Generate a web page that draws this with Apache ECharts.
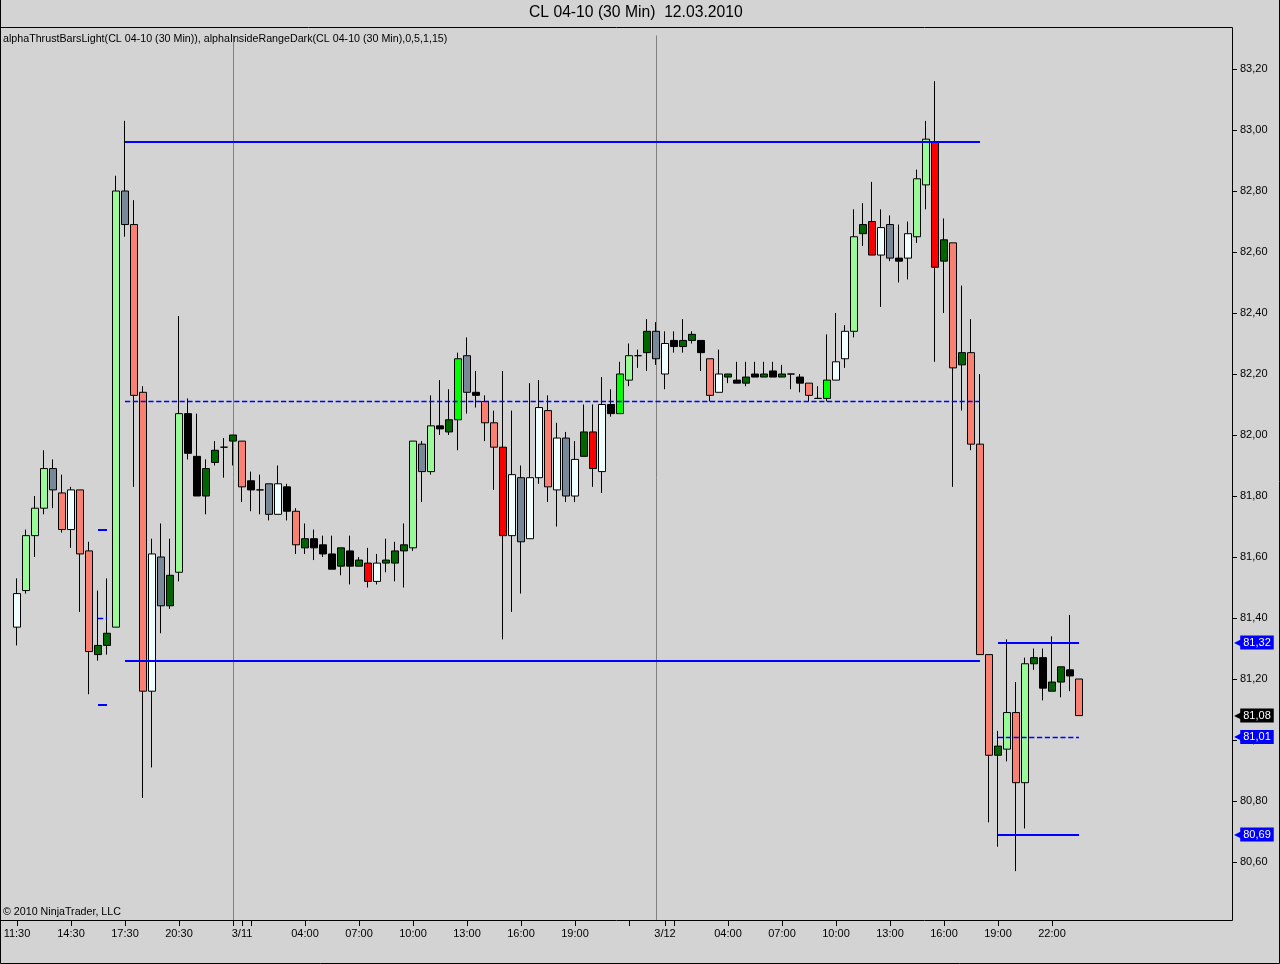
<!DOCTYPE html>
<html><head><meta charset="utf-8">
<script src="https://cdn.jsdelivr.net/npm/echarts@6/dist/echarts.min.js"></script>
<style>html,body{margin:0;padding:0;background:#d3d3d3}#c{width:1280px;height:964px}</style>
</head><body><div id="c"></div>
<script>
// ---- categories (30-minute bars) ----
const day1Times = ['11:30','12:00','12:30','13:00','13:30','14:00','14:30','15:00','15:30','16:00','16:30','17:00','17:30','18:00','18:30','19:00','19:30','20:00','20:30','21:00','21:30','22:00','22:30','23:00'];
const day2Times = ['00:00','00:30','01:00','01:30','02:00','02:30','03:00','03:30','04:00','04:30','05:00','05:30','06:00','06:30','07:00','07:30','08:00','08:30','09:00','09:30','10:00','10:30','11:00','11:30','12:00','12:30','13:00','13:30','14:00','14:30','15:00','15:30','16:00','16:30','17:00','17:30','18:00','18:30','19:00','19:30','20:00','20:30','21:00','21:30','22:00','22:30','23:00'];
const day3Times = ['00:00','00:30','01:00','01:30','02:00','02:30','03:00','03:30','04:00','04:30','05:00','05:30','06:00','06:30','07:00','07:30','08:00','08:30','09:00','09:30','10:00','10:30','11:00','11:30','12:00','12:30','13:00','13:30','14:00','14:30','15:00','15:30','16:00','16:30','17:00','17:30','18:00','18:30','19:00','19:30','20:00','20:30','21:00','21:30','22:00','22:30','23:00','23:30'];

// ---- bars: [bodyTop, bodyBottom, high, low] ----
const day1Bars = [
[81.48,81.37,81.53,81.31],[81.67,81.49,81.69,81.48],[81.76,81.67,81.80,81.60],[81.89,81.76,81.95,81.74],
[81.89,81.82,81.92,81.76],[81.81,81.69,81.87,81.68],[81.82,81.69,81.83,81.63],[81.82,81.61,81.82,81.42],
[81.62,81.29,81.65,81.15],[81.31,81.28,81.49,81.26],[81.35,81.31,81.53,81.28],[82.80,81.37,82.85,81.37],
[82.80,82.69,83.03,82.65],[82.69,82.13,82.77,81.83],[82.14,81.16,82.16,80.81],[81.61,81.16,81.66,80.91],
[81.60,81.44,81.71,81.35],[81.54,81.44,81.66,81.43],[82.07,81.55,82.39,81.52],[82.07,81.94,82.12,81.92],
[81.93,81.80,82.07,81.80],[81.89,81.80,81.92,81.74],[81.95,81.91,81.98,81.90],[81.96,81.96,81.99,81.86]
];
const day1Colors = 'WLLLGSWSSDDLGSSWGDLKKDDK';

const day2Bars = [
[82.00,81.98,82.00,81.90],[81.98,81.83,81.98,81.78],[81.85,81.82,81.88,81.75],[81.82,81.82,81.87,81.74],
[81.84,81.74,81.84,81.72],[81.84,81.74,81.90,81.74],[81.83,81.75,81.84,81.72],[81.75,81.64,81.76,81.61],
[81.66,81.63,81.71,81.61],[81.66,81.63,81.69,81.59],[81.64,81.61,81.67,81.60],[81.61,81.56,81.67,81.56],
[81.63,81.57,81.63,81.54],[81.62,81.57,81.67,81.51],[81.59,81.57,81.60,81.57],[81.58,81.52,81.63,81.50],
[81.58,81.52,81.61,81.51],[81.59,81.58,81.66,81.55],[81.62,81.58,81.65,81.52],[81.64,81.62,81.71,81.50],
[81.98,81.63,81.98,81.62],[81.97,81.88,81.98,81.78],[82.03,81.88,82.13,81.87],[82.03,82.02,82.18,82.00],
[82.05,82.01,82.15,82.00],[82.25,82.05,82.27,81.95],[82.26,82.14,82.32,82.07],[82.14,82.13,82.21,82.09],
[82.11,82.04,82.13,81.98],[82.04,81.96,82.08,81.82],[81.96,81.67,82.21,81.33],[81.87,81.67,82.08,81.42],
[81.86,81.65,81.90,81.48],[81.86,81.66,82.17,81.66],[82.09,81.86,82.18,81.84],[82.08,81.83,82.13,81.78],
[81.99,81.82,82.04,81.70],[81.99,81.80,82.01,81.78],[81.92,81.80,81.98,81.78],[82.01,81.93,82.10,81.93],
[82.01,81.89,82.10,81.83],[82.10,81.88,82.19,81.81],[82.10,82.07,82.15,82.06],[82.20,82.07,82.24,82.07],
[82.26,82.18,82.30,82.16],[82.26,82.26,82.28,82.22],[82.34,82.27,82.38,82.21]
];
const day2Colors = 'DSKKGWKSDKKKDKDRWDDDLGLKDBGKSSRWGWWSWGWDRWKBLKD';

const day3Bars = [
[82.34,82.25,82.37,82.23],[82.30,82.20,82.34,82.15],[82.31,82.29,82.34,82.27],[82.31,82.29,82.38,82.27],
[82.33,82.31,82.34,82.30],[82.31,82.27,82.31,82.21],[82.25,82.13,82.25,82.11],[82.20,82.14,82.28,82.14],
[82.20,82.19,82.20,82.17],[82.18,82.17,82.24,82.17],[82.19,82.17,82.24,82.16],[82.20,82.19,82.24,82.19],
[82.20,82.19,82.24,82.19],[82.21,82.19,82.24,82.19],[82.20,82.19,82.23,82.19],[82.20,82.20,82.20,82.15],
[82.19,82.17,82.20,82.14],[82.17,82.13,82.17,82.11],[82.12,82.12,82.16,82.12],[82.18,82.12,82.33,82.11],
[82.24,82.18,82.40,82.18],[82.34,82.25,82.36,82.22],[82.65,82.34,82.74,82.32],[82.69,82.66,82.76,82.62],
[82.70,82.59,82.83,82.59],[82.68,82.59,82.74,82.42],[82.69,82.58,82.72,82.57],[82.58,82.57,82.69,82.50],
[82.66,82.58,82.70,82.51],[82.84,82.65,82.87,82.63],[82.97,82.82,83.03,82.74],[82.96,82.55,83.16,82.24],
[82.64,82.57,82.71,82.40],[82.63,82.22,82.63,81.83],[82.27,82.23,82.49,82.08],[82.27,81.97,82.38,81.95],
[81.97,81.28,82.20,81.28],[81.28,80.95,81.28,80.73],[80.98,80.95,81.03,80.65],[81.09,80.97,81.33,80.93],
[81.09,80.86,81.19,80.57],[81.25,80.86,81.27,80.71],[81.27,81.25,81.30,81.23],[81.27,81.17,81.30,81.13],
[81.19,81.16,81.34,81.16],[81.24,81.19,81.24,81.14],[81.23,81.21,81.41,81.16],[81.20,81.08,81.20,81.08]
];
const day3Colors = 'GWKDDKSWDKDKDKDKKSKBWWLDRWGKWLLRDSDSSSDLSLDKDDKS';

// ---- indicator levels: [fromBar, toBar, value] ----
const solidLevels = [
  ['3/10 17:30','3/12 18:00',82.96],
  ['3/10 17:30','3/12 18:00',81.26],
  ['3/12 19:00','3/12 23:30',81.32],
  ['3/12 19:00','3/12 23:30',80.69],
  ['3/10 16:00','3/10 16:30',81.69],
  ['3/10 16:00','3/10 16:30',81.115]
];
const dashedLevels = [
  ['3/10 17:30','3/12 18:00',82.11],
  ['3/12 19:00','3/12 23:30',81.01],
  ['3/10 16:00','3/10 16:30',81.40]
];
const sessionBreaks = ['3/11 00:00','3/12 00:00'];

// ---- axis ticks / labels ----
const yTicks = [80.6,80.8,81.0,81.2,81.4,81.6,81.8,82.0,82.2,82.4,82.6,82.8,83.0,83.2];
const priceMarkers = [81.32,81.08,81.01,80.69];
const lastPrice = 81.08;
const xLabelText = {
  '3/10 11:30':'11:30','3/10 14:30':'14:30','3/10 17:30':'17:30','3/10 20:30':'20:30',
  '3/11 00:30':'3/11','3/11 04:00':'04:00','3/11 07:00':'07:00','3/11 10:00':'10:00','3/11 13:00':'13:00',
  '3/11 16:00':'16:00','3/11 19:00':'19:00',
  '3/12 00:30':'3/12','3/12 04:00':'04:00','3/12 07:00':'07:00','3/12 10:00':'10:00','3/12 13:00':'13:00',
  '3/12 16:00':'16:00','3/12 19:00':'19:00','3/12 22:00':'22:00'
};
const xExtraTicks = ['3/11 00:00','3/11 01:00','3/11 22:00','3/12 01:00'];

// ---- build ----
const colorMap = {L:'#98fb98',S:'#fa8072',W:'#f0ffff',G:'#778899',D:'#006400',K:'#000000',R:'#ff0000',B:'#00ff00'};
const upCodes = 'LBDW';
function buildDay(bars, codes){
  return bars.map((b,i)=>{
    const c = codes[i], col = colorMap[c], up = upCodes.indexOf(c) >= 0;
    const [top,bot,hi,lo] = b;
    return {value: up ? [bot,top,lo,hi] : [top,bot,lo,hi],
      itemStyle:{color:col,color0:col,borderColor:'#000',borderColor0:'#000',borderColorDoji:'#000'}};
  });
}
const categories = [].concat(
  day1Times.map(t=>'3/10 '+t), day2Times.map(t=>'3/11 '+t), day3Times.map(t=>'3/12 '+t));
const candleData = [].concat(buildDay(day1Bars,day1Colors), buildDay(day2Bars,day2Colors), buildDay(day3Bars,day3Colors));
const axisCats = categories.slice();
for (let k=0;k<16;k++) axisCats.push('pad'+k);

const PX_PER_UNIT = 305, Y_REF = 83.2, Y_REF_PX = 69, TOP = 27, BOTTOM = 920;
const yMax = Y_REF + (Y_REF_PX - TOP)/PX_PER_UNIT;
const yMin = Y_REF - (BOTTOM - Y_REF_PX)/PX_PER_UNIT;
const fmt = v => v.toFixed(2).replace('.', ',');
const FONT = 'Liberation Sans, Arial, sans-serif';

const mlSolid = solidLevels.map(l=>[{coord:[l[0],l[2]]},{coord:[l[1],l[2]]}]);
const mlDashed = dashedLevels.map(l=>[{coord:[l[0],l[2]]},{coord:[l[1],l[2]]}]);
const mlBreaks = sessionBreaks.map(c=>[{coord:[c,83.31]},{coord:[c,yMin]}]);

const chart = echarts.init(document.getElementById('c'), null, {renderer:'canvas'});
chart.setOption({
  animation:false,
  backgroundColor:'#d3d3d3',
  textStyle:{fontFamily:FONT},
  title:[
    {text:'CL 04-10 (30 Min)  12.03.2010', left:529, top:5, padding:0,
     textStyle:{fontSize:15.7,fontWeight:'normal',color:'#000',fontFamily:FONT}},
    {text:'alphaThrustBarsLight(CL 04-10 (30 Min)), alphaInsideRangeDark(CL 04-10 (30 Min),0,5,1,15)',
     left:3, top:34, padding:0, textStyle:{fontSize:10.7,fontWeight:'normal',color:'#000',fontFamily:FONT}},
    {text:'\u00a9 2010 NinjaTrader, LLC', left:3, top:907, padding:0,
     textStyle:{fontSize:10.7,fontWeight:'normal',color:'#000',fontFamily:FONT}}
  ],
  grid:{left:12.5, top:TOP, width:9*axisCats.length, height:BOTTOM-TOP, show:false},
  xAxis:{type:'category', data:axisCats, boundaryGap:true,
    axisLine:{show:false},
    axisTick:{show:true, alignWithLabel:true, length:6, lineStyle:{color:'#000'},
      interval:(i,v)=> xLabelText[v]!==undefined || xExtraTicks.indexOf(v)>=0},
    axisLabel:{interval:(i,v)=> xLabelText[v]!==undefined, formatter:v=>xLabelText[v]||'',
      fontSize:11, color:'#000', margin:8, fontFamily:FONT},
    splitLine:{show:false}},
  yAxis:[
    {type:'value', position:'right', offset:4.5, min:yMin, max:yMax, scale:true,
     axisLine:{show:false}, splitLine:{show:false},
     axisTick:{show:true, length:5, customValues:yTicks, lineStyle:{color:'#000'}},
     axisLabel:{customValues:yTicks, formatter:fmt, fontSize:11, color:'#000', margin:8, fontFamily:FONT}},
    {type:'value', position:'right', offset:4.5, min:yMin, max:yMax, scale:true,
     axisLine:{show:false}, splitLine:{show:false}, axisTick:{show:false},
     axisLabel:{customValues:priceMarkers, margin:2, fontFamily:FONT,
       formatter:v=>{ const k = fmt(v)===fmt(lastPrice)?'k':'b'; return '{'+k+'a|\u25C0}{'+k+'b|'+fmt(v)+'}'; },
       rich:{
         ba:{color:'#0000ff',fontSize:12,fontFamily:'DejaVu Sans',padding:[0,-3,0,0]},
         bb:{backgroundColor:'#0000ff',color:'#fff',fontSize:11,padding:[2,3,1,3],fontFamily:FONT},
         ka:{color:'#000',fontSize:12,fontFamily:'DejaVu Sans',padding:[0,-3,0,0]},
         kb:{backgroundColor:'#000',color:'#fff',fontSize:11,padding:[2,3,1,3],fontFamily:FONT}
       }}}
  ],
  series:[
    {type:'line', data:[], silent:true,
     markLine:{silent:true, symbol:'none', z:1, label:{show:false},
       lineStyle:{color:'#808080',width:1,type:'solid'}, data:mlBreaks}},
    {type:'line', data:[], silent:true, color:'#0000ff',
     markLine:{silent:true, symbol:'none', z:6, label:{show:false},
       lineStyle:{color:'#0000ff',width:1.3,type:'dashed',dashOffset:0,opacity:1}, data:mlDashed}},
    {type:'candlestick', data:candleData, barWidth:8, silent:true,
     itemStyle:{borderWidth:1}, emphasis:{disabled:true},
     markLine:{silent:true, symbol:'none', label:{show:false},
       lineStyle:{color:'#0000ff',width:2,type:'solid'}, data:mlSolid}}
  ],
  graphic:[
    {type:'rect', z:100, silent:true, shape:{x:0.5,y:TOP+0.5,width:1232,height:BOTTOM-TOP},
     style:{fill:null,stroke:'#000',lineWidth:1}},
    {type:'polyline', z:100, silent:true, shape:{points:[[0.5,0],[0.5,963.5],[1279.5,963.5],[1279.5,0]]},
     style:{fill:null,stroke:'#000',lineWidth:1}}
  ]
});
</script></body></html>
